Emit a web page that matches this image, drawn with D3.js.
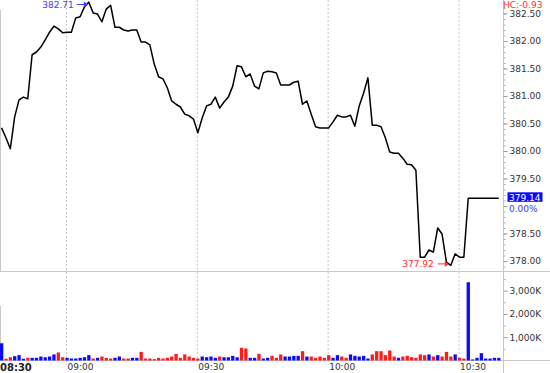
<!DOCTYPE html>
<html>
<head>
<meta charset="utf-8">
<script src="https://cdn.jsdelivr.net/npm/d3@7"></script>
<style>
body { margin: 0; background: #fff; }
svg { display: block; font-family: "DejaVu Sans", Verdana, sans-serif; }
</style>
</head>
<body>
<script>
var width = 550, height = 373;

// session labels
var sessionLabel = "08:30";
var firstBar = "08:45";
var timeTicks = ["09:00", "09:30", "10:00", "10:30"];

// one-minute closes
var prices = [
  380.42, 380.24, 380.04, 380.62, 380.93, 380.98, 380.95, 381.75, 381.80, 381.89,
  382.02, 382.16, 382.27, 382.22, 382.15, 382.16, 382.16, 382.42, 382.44, 382.62,
  382.71, 382.51, 382.49, 382.35, 382.58, 382.65, 382.25, 382.25, 382.20, 382.18,
  382.20, 382.20, 381.98, 381.98, 381.93, 381.58, 381.35, 381.31, 381.15, 380.91,
  380.85, 380.80, 380.67, 380.64, 380.58, 380.33, 380.60, 380.82, 380.85, 380.98,
  380.78, 380.89, 380.98, 381.18, 381.55, 381.53, 381.35, 381.40, 381.18, 381.13,
  381.42, 381.45, 381.44, 381.42, 381.20, 381.20, 381.20, 381.25, 381.27, 380.85,
  380.91, 380.67, 380.44, 380.42, 380.42, 380.42, 380.53, 380.65, 380.62, 380.62,
  380.65, 380.45, 380.82, 381.05, 381.33, 380.47, 380.47, 380.44, 380.24, 379.98,
  379.96, 379.96, 379.87, 379.76, 379.75, 379.65, 378.07, 378.07, 378.20, 378.16,
  378.60, 378.49, 377.98, 377.92, 378.13, 378.07, 378.07, 379.14, 379.14, 379.14,
  379.14, 379.14, 379.14, 379.14, 379.14
];

// volume in thousands
var volumes = [
  740, 75, 140, 185, 230, 75, 115, 115, 115, 170,
  140, 170, 260, 345, 140, 115, 85, 85, 115, 140,
  230, 85, 115, 170, 115, 85, 115, 170, 85, 85,
  115, 115, 370, 85, 85, 60, 115, 85, 115, 170,
  285, 115, 260, 170, 115, 85, 170, 140, 170, 115,
  170, 140, 140, 200, 140, 545, 515, 115, 115, 285,
  85, 115, 200, 115, 260, 170, 170, 200, 200, 400,
  170, 170, 115, 170, 115, 230, 115, 230, 170, 115,
  260, 200, 170, 200, 85, 260, 400, 400, 230, 430,
  170, 115, 170, 200, 140, 115, 260, 230, 260, 170,
  230, 170, 370, 170, 260, 115, 85, 3360, 45, 115,
  315, 85, 85, 115, 115
];

// bar colour: u = blue, d = red
var volDir = [
  "u","d","d","u","u","u","d","u","u","u",
  "u","u","u","d","d","u","u","u","u","u",
  "u","d","u","d","d","d","u","u","d","d",
  "u","u","d","d","d","d","d","d","d","d",
  "d","d","d","d","d","d","u","u","u","u",
  "d","u","u","u","u","d","d","u","u","d",
  "u","u","d","d","d","u","u","u","u","d",
  "u","d","d","d","d","d","u","u","d","d",
  "u","u","u","u","u","d","d","d","d","d",
  "d","u","d","d","d","d","d","d","u","d",
  "u","d","d","d","u","d","d","u","u","u",
  "u","u","u","u","u"
];

var priceTicks = [378, 378.5, 379, 379.5, 380, 380.5, 381, 381.5, 382, 382.5];
var volTicks = [1000, 2000, 3000];
var hcLabel = "HC:-0.93";
var changeLabel = "0.00%";

var blue = "#0a0aff", red = "#ff1a1a";
var axisX = 503.5;

var parseT = d3.timeParse("%H:%M");
var t0 = parseT(firstBar);
var times = prices.map(function(d, i) { return d3.timeMinute.offset(t0, i); });

var x = d3.scaleTime()
    .domain([parseT("09:00"), parseT("10:30")])
    .range([66, 458.5]);
var barShift = 1;
function bx(t) { return x(t) + barShift; }

var y = d3.scaleLinear().domain([378, 382.5]).range([261, 13.5]);
var yv = d3.scaleLinear().domain([0, 3820]).range([360.5, 271.5]);

var svg = d3.select("body").append("svg")
    .attr("width", width)
    .attr("height", height);

// frame lines
var frame = svg.append("g").attr("stroke", "#c8c8c8").attr("stroke-width", 1);
frame.append("line").attr("x1", 0).attr("x2", width).attr("y1", 271.5).attr("y2", 271.5);
frame.append("line").attr("x1", 0).attr("x2", width).attr("y1", 360.5).attr("y2", 360.5);
frame.append("line").attr("x1", 0.5).attr("x2", 0.5).attr("y1", 10).attr("y2", 271);
frame.append("line").attr("x1", 0.5).attr("x2", 0.5).attr("y1", 306).attr("y2", 360);
frame.append("line").attr("x1", axisX).attr("x2", axisX).attr("y1", 0).attr("y2", height);

// dotted time gridlines
var tickTimes = timeTicks.map(parseT);
svg.append("g")
    .attr("class", "grid")
    .call(d3.axisBottom(x).tickValues(tickTimes).tickSize(365).tickFormat(""))
    .call(function(g) {
      g.select(".domain").remove();
      g.selectAll("line").attr("stroke", "#c4c4c4").attr("stroke-dasharray", "2,2");
    });

// volume bars
svg.append("g").selectAll("rect")
    .data(volumes)
    .enter().append("rect")
    .attr("x", function(d, i) { return bx(times[i]) - 1.6; })
    .attr("width", 3.3)
    .attr("y", function(d) { return yv(d); })
    .attr("height", function(d) { return yv(0) - yv(d); })
    .attr("fill", function(d, i) { return volDir[i] == "u" ? blue : red; });

// price line
var line = d3.line()
    .x(function(d, i) { return bx(times[i]); })
    .y(function(d) { return y(d); });

svg.append("path")
    .datum(prices)
    .attr("fill", "none")
    .attr("stroke", "#000")
    .attr("stroke-width", 1.5)
    .attr("stroke-linejoin", "round")
    .attr("d", line);

// right price axis
svg.append("g")
    .attr("transform", "translate(" + axisX + ",0)")
    .call(d3.axisRight(y).tickValues(d3.range(377.9, 382.75, 0.1)).tickSize(2).tickFormat(""))
    .call(function(g) { g.select(".domain").remove(); g.selectAll("line").attr("stroke", "#aaa"); });

svg.append("g")
    .attr("transform", "translate(" + axisX + ",0)")
    .call(d3.axisRight(y).tickValues(priceTicks).tickSize(4).tickPadding(2)
      .tickFormat(function(d) { return d == 379 ? "" : d3.format(".2f")(d); }))
    .call(function(g) {
      g.select(".domain").remove();
      g.selectAll("line").attr("stroke", "#999");
      g.selectAll("text").attr("fill", "#333").style("font-size", "9px")
        .style("font-family", "DejaVu Sans, Verdana, sans-serif");
    });

// right volume axis
svg.append("g")
    .attr("transform", "translate(" + axisX + ",0)")
    .call(d3.axisRight(yv).tickValues([500, 1500, 2500, 3500]).tickSize(2).tickFormat(""))
    .call(function(g) { g.select(".domain").remove(); g.selectAll("line").attr("stroke", "#aaa"); });

svg.append("g")
    .attr("transform", "translate(" + axisX + ",0)")
    .call(d3.axisRight(yv).tickValues(volTicks).tickSize(4).tickPadding(2)
      .tickFormat(function(d) { return d3.format(",")(d) + "K"; }))
    .call(function(g) {
      g.select(".domain").remove();
      g.selectAll("line").attr("stroke", "#999");
      g.selectAll("text").attr("fill", "#333").style("font-size", "9px")
        .style("font-family", "DejaVu Sans, Verdana, sans-serif");
    });

// time labels
svg.append("g")
    .attr("transform", "translate(0,361)")
    .call(d3.axisBottom(x).tickValues(tickTimes).tickSize(0).tickPadding(3)
      .tickFormat(d3.timeFormat("%H:%M")))
    .call(function(g) {
      g.select(".domain").remove();
      g.selectAll("text").attr("text-anchor", "start").attr("x", 1)
        .attr("fill", "#333").style("font-size", "9px")
        .style("font-family", "DejaVu Sans, Verdana, sans-serif");
    });

svg.append("text")
    .attr("x", 0).attr("y", 370.5)
    .attr("font-size", 10).attr("font-weight", "bold").attr("fill", "#222")
    .text(sessionLabel);

// high / low markers
function arrow(x1, x2, yy, color) {
  svg.append("line").attr("x1", x1).attr("x2", x2 - 3).attr("y1", yy).attr("y2", yy)
    .attr("stroke", color).attr("stroke-width", 1);
  svg.append("path")
    .attr("d", "M" + x2 + "," + yy + "L" + (x2 - 4) + "," + (yy - 3) + "L" + (x2 - 4) + "," + (yy + 3) + "Z")
    .attr("fill", color);
}

var hiI = d3.maxIndex(prices), loI = d3.minIndex(prices);
var hx = bx(times[hiI]), hy = y(prices[hiI]);
arrow(hx - 12, hx - 1, hy + 2.5, "#3a3aff");
svg.append("text").attr("x", hx - 15).attr("y", hy + 5.8)
    .attr("text-anchor", "end").attr("font-size", 9).attr("fill", "#3a3aff")
    .text(d3.format(".2f")(prices[hiI]));

var lx = bx(times[loI]), ly = y(prices[loI]);
arrow(lx - 13, lx - 2, ly - 1.5, "#ff3030");
svg.append("text").attr("x", lx - 17).attr("y", ly + 1.8)
    .attr("text-anchor", "end").attr("font-size", 9).attr("fill", "#ff3030")
    .text(d3.format(".2f")(prices[loI]));

// last price tag
var last = prices[prices.length - 1];
var py = y(last);
svg.append("rect").attr("x", 507.5).attr("y", py - 6).attr("width", 35).attr("height", 9.5)
    .attr("fill", blue);
svg.append("text").attr("x", 509).attr("y", py + 2.4)
    .attr("font-size", 9).attr("fill", "#fff").text(d3.format(".2f")(last));
svg.append("text").attr("x", 509).attr("y", py + 13.2)
    .attr("font-size", 9).attr("fill", "#3a3aff").text(changeLabel);

svg.append("text").attr("x", 503).attr("y", 7.5)
    .attr("font-size", 9).attr("fill", "#ff3030").text(hcLabel);
</script>
</body>
</html>
